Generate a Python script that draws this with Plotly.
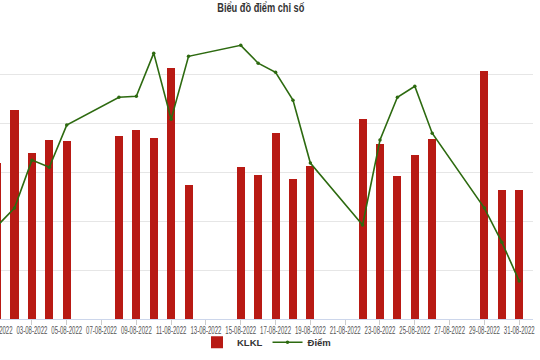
import plotly.graph_objects as go

days = [1, 2, 3, 4, 5, 8, 9, 10, 11, 12, 15, 16, 17, 18, 19, 22, 23, 24, 25, 26, 29, 30, 31]
dates = ["2022-08-%02d" % d for d in days]
klkl = [31.8, 42.7, 33.9, 36.5, 36.3, 37.4, 38.6, 37.0, 51.2, 27.3, 31.0, 29.4, 37.9, 28.5, 31.3,
        40.8, 35.7, 29.3, 33.4, 36.7, 50.7, 26.3, 26.3]
diem = [1218.0, 1225.3, 1244.9, 1242.0, 1259.2, 1270.6, 1271.0, 1288.6, 1261.6, 1287.3, 1291.8,
        1284.5, 1280.8, 1269.4, 1243.7, 1218.4, 1253.1, 1270.6, 1275.1, 1255.9, 1225.3, 1211.4, 1195.5]
tick_days = list(range(1, 32, 2))
tick_vals = ["2022-08-%02d" % d for d in tick_days]
tick_text = ["%02d-08-2022" % d for d in tick_days]

FONT = "Liberation Sans, Arial, sans-serif"
TICKFONT = dict(family=FONT, size=11, color="#555555")

fig = go.Figure()
fig.add_trace(go.Bar(
    x=dates, y=klkl, name="KLKL", marker=dict(color="#b81a14", line=dict(width=0)),
    width=40e6, yaxis="y",
))
fig.add_trace(go.Scatter(
    x=dates, y=diem, name="Điểm", mode="lines+markers", yaxis="y2",
    line=dict(color="#2d6a10", width=1.6), marker=dict(size=3.5, color="#2d6a10"),
))

# first tick label sits just left of the visible plot area (partly cut off, as in the reference)
fig.add_annotation(x=-0.0053, xref="paper", xanchor="center", y=0, yref="paper", yanchor="top",
                   yshift=-3, text=tick_text[0], showarrow=False, font=TICKFONT)

fig.update_layout(
    width=540, height=360,
    margin=dict(l=0, r=7, t=25, b=41, autoexpand=False),
    paper_bgcolor="white", plot_bgcolor="white",
    title=dict(text="<b>Biểu đồ điểm chỉ số</b>", x=0.483, xanchor="center", y=0.978, yanchor="middle",
               font=dict(family=FONT, size=12, color="#333333")),
    showlegend=True,
    legend=dict(orientation="h", x=0.5, xanchor="center", y=-0.03, yanchor="top",
                bgcolor="rgba(0,0,0,0)", itemwidth=30,
                font=dict(family=FONT, size=9.5, color="#333333", weight="bold"),
                traceorder="normal"),
    xaxis=dict(type="date", range=["2022-08-01 04:00", "2022-08-31 19:00"],
               tickvals=tick_vals, ticktext=tick_text, ticks="outside", ticklen=5,
               tickangle=0, automargin=False, ticklabeloverflow="allow", ticklabelstandoff=-4,
               tickcolor="#cccccc", showgrid=False, showline=True, linecolor="#ccd6eb",
               tickfont=TICKFONT),
    yaxis=dict(range=[0, 60.05], dtick=10, showticklabels=False, showgrid=True,
               gridcolor="#e6e6e6", zeroline=False, automargin=False),
    yaxis2=dict(range=[1180, 1300.1], dtick=20, overlaying="y", side="right",
                showticklabels=False, showgrid=False, zeroline=False, automargin=False),
    bargap=0,
)

post = """
document.body.style.margin = '0px';
var gd = document.getElementById('{plot_id}');
function cond(sel, s) {
  gd.querySelectorAll(sel).forEach(function (el) {
    var b = el.getBBox();
    var cx = b.x + b.width / 2;
    var t = el.getAttribute('transform') || '';
    el.setAttribute('transform', t + ' translate(' + cx + ',0) scale(' + s + ',1) translate(' + (-cx) + ',0)');
  });
}
cond('.xtick text', 0.55);
cond('.annotation-text', 0.55);
cond('.gtitle', 0.77);
"""

fig.write_html("out.html", post_script=post, config={"displayModeBar": False})
